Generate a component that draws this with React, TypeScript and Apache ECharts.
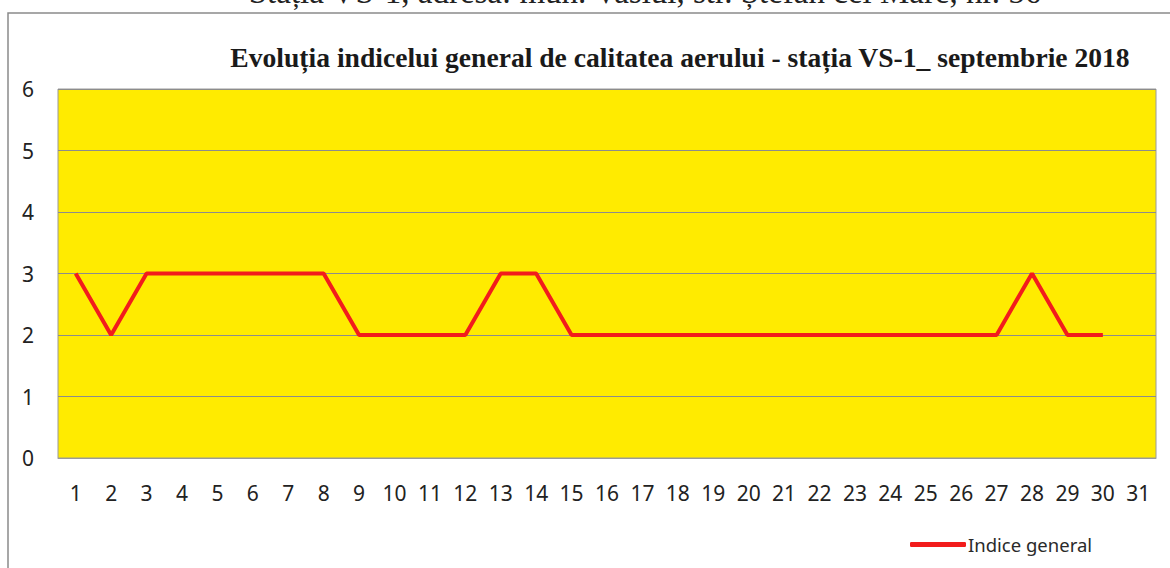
import React, { useEffect, useRef } from "react";
import * as echarts from "echarts";

const days = Array.from({ length: 31 }, (_, i) => String(i + 1));
const indiceGeneral = [3, 2, 3, 3, 3, 3, 3, 3, 2, 2, 2, 2, 3, 3, 2, 2, 2, 2, 2, 2, 2, 2, 2, 2, 2, 2, 2, 3, 2, 2];
const titleText = "Evoluția indicelui general de calitatea aerului - stația VS-1_ septembrie 2018";
const headerText = "Stația VS-1, adresa: mun. Vaslui, str. Ștefan cel Mare, nr. 56";
const seriesName = "Indice general";

export default function App() {
  const ref = useRef<HTMLDivElement>(null);
  useEffect(() => {
    document.body.style.margin = "0";
    const chart = echarts.init(ref.current!, null, { renderer: "svg" });
    chart.setOption({
      animation: false,
      backgroundColor: "#ffffff",
      title: {
        text: titleText,
        left: 675,
        top: 38,
        textAlign: "center",
        textStyle: {
          fontFamily: "Liberation Serif",
          fontWeight: "bold",
          fontSize: 27.6,
          color: "#1a1a1a",
        },
      },
      graphic: [
        {
          type: "rect",
          shape: { x: 8, y: 13, width: 1200, height: 600 },
          style: { fill: "none", stroke: "#8a8a8a", lineWidth: 1.5 },
          z: 0,
        },
        {
          type: "text",
          x: 645,
          y: 8,
          style: {
            text: headerText,
            fontFamily: "Liberation Serif",
            fontSize: 33,
            fill: "#222",
            textAlign: "center",
            textVerticalAlign: "bottom",
          },
        },
      ],
      legend: {
        data: [{ name: seriesName, icon: "roundRect" }],
        left: 905,
        top: 530,
        itemWidth: 56,
        itemHeight: 5,
        itemGap: 4,
        textStyle: { fontFamily: "Noto Sans", fontSize: 18.5, color: "#2a2a2a", padding: [0, 0, 0, -3] },
      },
      grid: {
        left: 58,
        right: 14,
        top: 89,
        bottom: 110,
        show: true,
        backgroundColor: "#ffeb00",
        borderColor: "#9a9a9a",
        borderWidth: 1,
      },
      xAxis: {
        type: "category",
        data: days,
        boundaryGap: true,
        axisLine: { show: true, lineStyle: { color: "#9a9a9a" } },
        axisTick: { show: false },
        axisLabel: {
          interval: 0,
          margin: 24,
          fontFamily: "Noto Sans",
          fontSize: 21,
          color: "#222",
        },
      },
      yAxis: {
        type: "value",
        min: 0,
        max: 6,
        interval: 1,
        axisLine: { show: false },
        axisTick: { show: false },
        splitLine: { show: true, lineStyle: { color: "#8c8c8c", width: 1 } },
        axisLabel: {
          margin: 36,
          fontFamily: "Noto Sans",
          fontSize: 21,
          color: "#222",
          align: "left",
        },
      },
      series: [
        {
          name: seriesName,
          type: "line",
          data: indiceGeneral,
          symbol: "none",
          lineStyle: { color: "#f21c1c", width: 4 },
          itemStyle: { color: "#f21c1c" },
        },
      ],
    });
    return () => chart.dispose();
  }, []);
  return <div ref={ref} style={{ width: 1170, height: 568 }} />;
}
